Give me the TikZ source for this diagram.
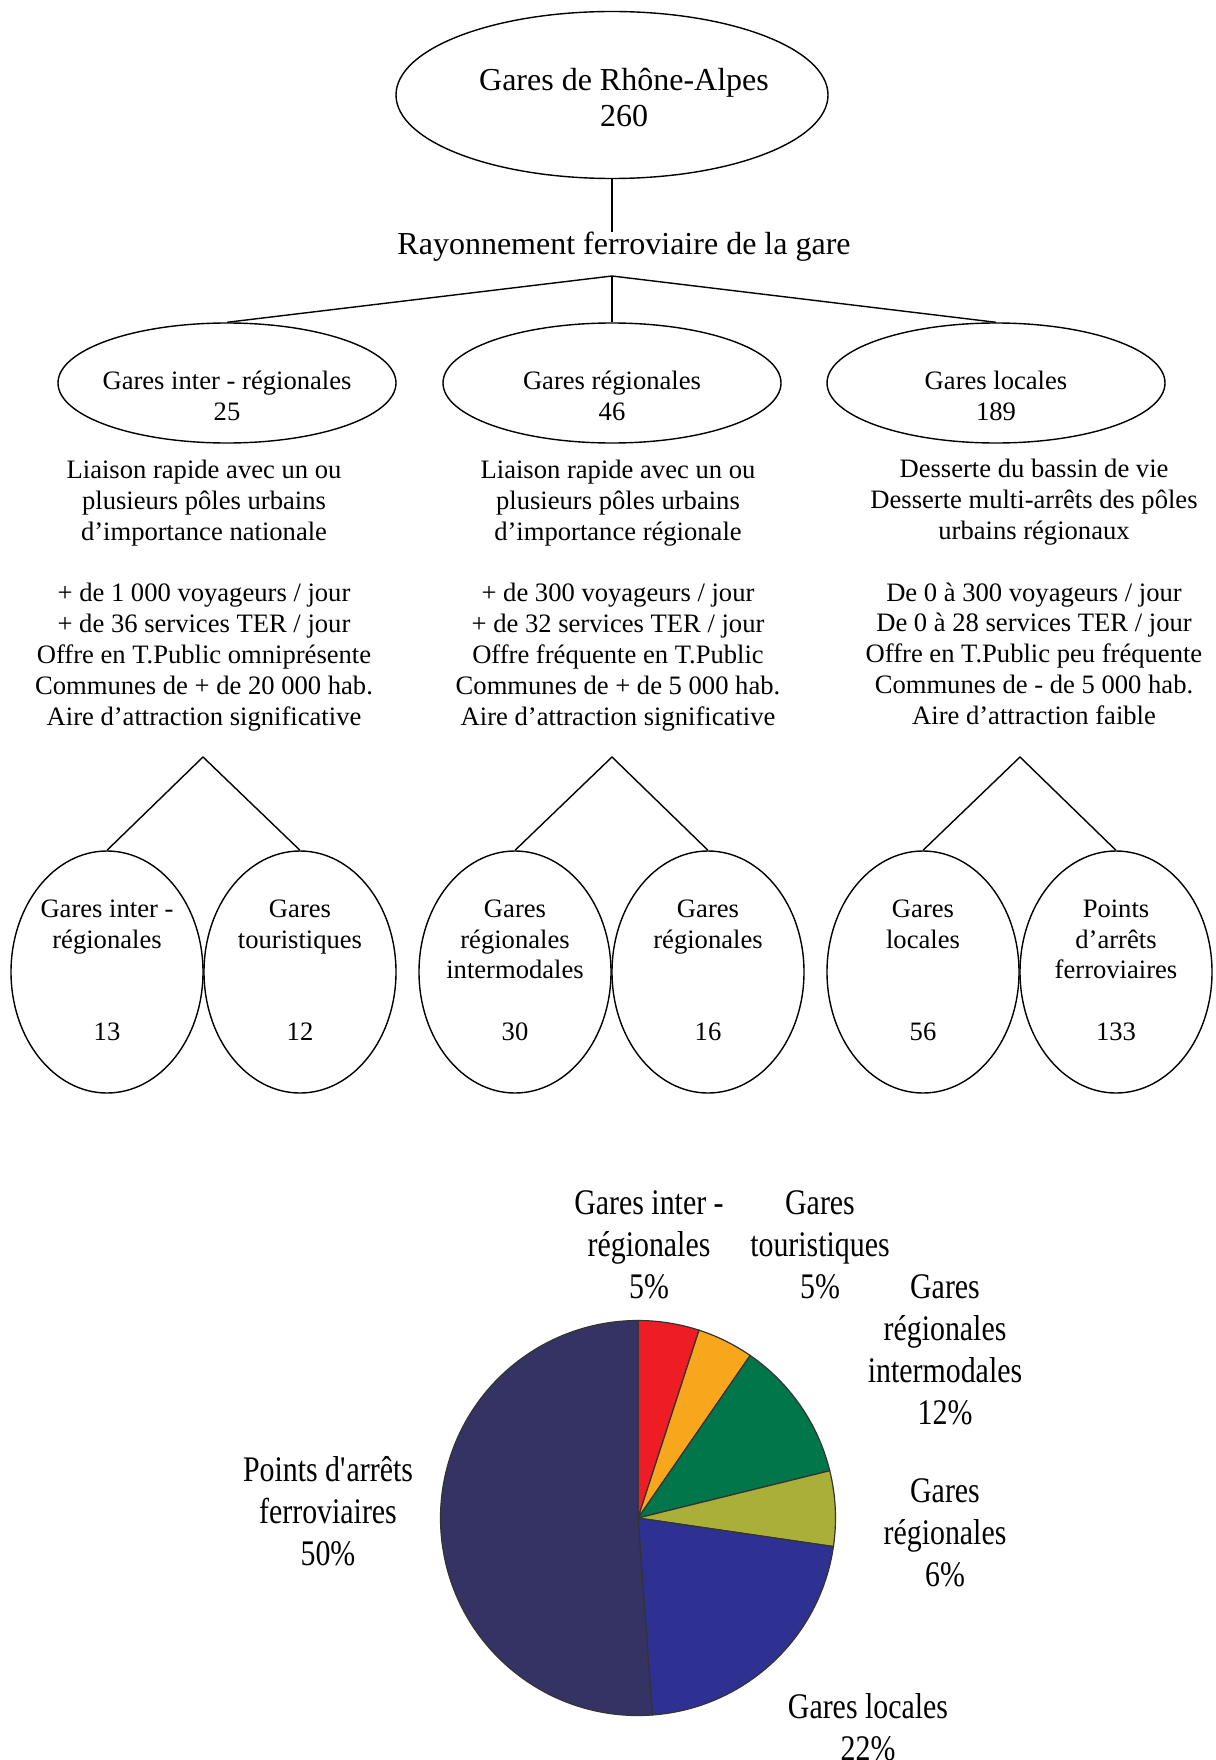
\documentclass[tikz,border=0pt]{standalone}
\usepackage{fontspec}
\setmainfont{Liberation Serif}
\newfontfamily\piefont[FakeStretch=0.83]{Liberation Serif}
\usetikzlibrary{shapes.geometric}

\definecolor{pred}{HTML}{EE1D24}
\definecolor{porange}{HTML}{F8A61C}
\definecolor{pgreen}{HTML}{00764A}
\definecolor{polive}{HTML}{A9AF37}
\definecolor{pblue}{HTML}{2E3191}
\definecolor{pnavy}{HTML}{343363}
\definecolor{pline}{HTML}{333333}

\begin{document}
\begin{tikzpicture}[x=0.5pt,y=0.5pt,line width=0.7pt,
  big/.style={ellipse,draw,minimum width=216pt,minimum height=83.5pt,inner sep=0pt},
  mid/.style={ellipse,draw,minimum width=169pt,minimum height=60pt,inner sep=0pt},
  leaf/.style={ellipse,draw,minimum width=96pt,minimum height=121pt,inner sep=0pt},
  txt/.style={align=center,inner sep=0pt,font=\fontsize{13.3}{15.4}\selectfont},
  head/.style={align=center,inner sep=0pt,font=\fontsize{16}{18}\selectfont},
  pielab/.style={align=center,inner sep=0pt,font=\piefont\fontsize{18}{21}\selectfont}]

\useasboundingbox (0,0) rectangle (1215,-1760);

%\tikzstyle{every node}+=[draw]

\node[big] (R) at (612,-95) {};
\node[head] (RT) at (624,-98) {Gares de Rhône-Alpes\\260};
\node[head] (RF) at (624,-247) {Rayonnement ferroviaire de la gare};
\coordinate (B) at (612,-276);
\draw (R.south) -- (R.south |- RF.north);

\node[mid] (G1) at (227,-383) {};
\node[mid] (G2) at (612,-383) {};
\node[mid] (G3) at (996,-383) {};
\node[txt] (T1) at (227,-396) {Gares inter - régionales\\25};
\node[txt] (T2) at (612,-396) {Gares régionales\\46};
\node[txt] (T3) at (996,-396) {Gares locales\\189};
\draw (B) -- (G1.north);
\draw (B) -- (G2.north);
\draw (B) -- (G3.north);

\node[txt] (D1) at (204,-595.5) {Liaison rapide avec un ou\\plusieurs pôles urbains\\d’importance nationale\\ \\+ de 1 000 voyageurs / jour\\+ de 36 services TER / jour\\Offre en T.Public omniprésente\\Communes de + de 20 000 hab.\\Aire d’attraction significative};
\node[txt] (D2) at (618,-595.5) {Liaison rapide avec un ou\\plusieurs pôles urbains\\d’importance régionale\\ \\+ de 300 voyageurs / jour\\+ de 32 services TER / jour\\Offre fréquente en T.Public\\Communes de + de 5 000 hab.\\Aire d’attraction significative};
\node[txt] (D3) at (1034,-592) {Desserte du bassin de vie\\Desserte multi-arrêts des pôles\\urbains régionaux\\ \\De 0 à 300 voyageurs / jour\\De 0 à 28 services TER / jour\\Offre en T.Public peu fréquente\\Communes de - de 5 000 hab.\\Aire d’attraction faible};

\coordinate (A1) at (203,-757);
\coordinate (A2) at (612,-757);
\coordinate (A3) at (1020,-757);

\node[leaf] (S1) at (107,-972) {};
\node[leaf] (S2) at (300,-972) {};
\node[leaf] (S3) at (515,-972) {};
\node[leaf] (S4) at (708,-972) {};
\node[leaf] (S5) at (923,-972) {};
\node[leaf] (S6) at (1116,-972) {};
\draw (S1.north) -- (A1) -- (S2.north);
\draw (S3.north) -- (A2) -- (S4.north);
\draw (S5.north) -- (A3) -- (S6.north);

\node[txt,anchor=north] (N1) at (107,-899) {Gares inter -\\régionales};
\node[txt,anchor=north] (N2) at (300,-899) {Gares\\touristiques};
\node[txt,anchor=north] (N3) at (515,-899) {Gares\\régionales\\intermodales};
\node[txt,anchor=north] (N4) at (708,-899) {Gares\\régionales};
\node[txt,anchor=north] (N5) at (923,-899) {Gares\\locales};
\node[txt,anchor=north] (N6) at (1116,-899) {Points\\d’arrêts\\ferroviaires};
\node[txt] (C1) at (107,-1032) {13};
\node[txt] (C2) at (300,-1032) {12};
\node[txt] (C3) at (515,-1032) {30};
\node[txt] (C4) at (708,-1032) {16};
\node[txt] (C5) at (923,-1032) {56};
\node[txt] (C6) at (1116,-1032) {133};

% camembert
\coordinate (P) at (638,-1518);
\begin{scope}[draw=pline,line width=0.6pt]
\filldraw[fill=pred] (P) -- ++(90:197.5) arc[start angle=90,end angle=72,radius=197.5] -- cycle;
\filldraw[fill=porange] (P) -- ++(72:197.5) arc[start angle=72,end angle=55.38,radius=197.5] -- cycle;
\filldraw[fill=pgreen] (P) -- ++(55.38:197.5) arc[start angle=55.38,end angle=13.85,radius=197.5] -- cycle;
\filldraw[fill=polive] (P) -- ++(13.85:197.5) arc[start angle=13.85,end angle=-8.31,radius=197.5] -- cycle;
\filldraw[fill=pblue] (P) -- ++(-8.31:197.5) arc[start angle=-8.31,end angle=-85.85,radius=197.5] -- cycle;
\filldraw[fill=pnavy] (P) -- ++(-85.85:197.5) arc[start angle=-85.85,end angle=-270,radius=197.5] -- cycle;
\end{scope}

\node[pielab] (L1) at (649,-1245) {Gares inter -\\régionales\\5\%};
\node[pielab] (L2) at (820,-1245) {Gares\\touristiques\\5\%};
\node[pielab] (L3) at (945,-1350) {Gares\\régionales\\intermodales\\12\%};
\node[pielab] (L4) at (945,-1533) {Gares\\régionales\\6\%};
\node[pielab] (L5) at (328,-1511) {Points d\textquotesingle arrêts\\ferroviaires\\50\%};
\node[pielab] (L6) at (868,-1727) {Gares locales\\22\%};

\end{tikzpicture}
\end{document}
